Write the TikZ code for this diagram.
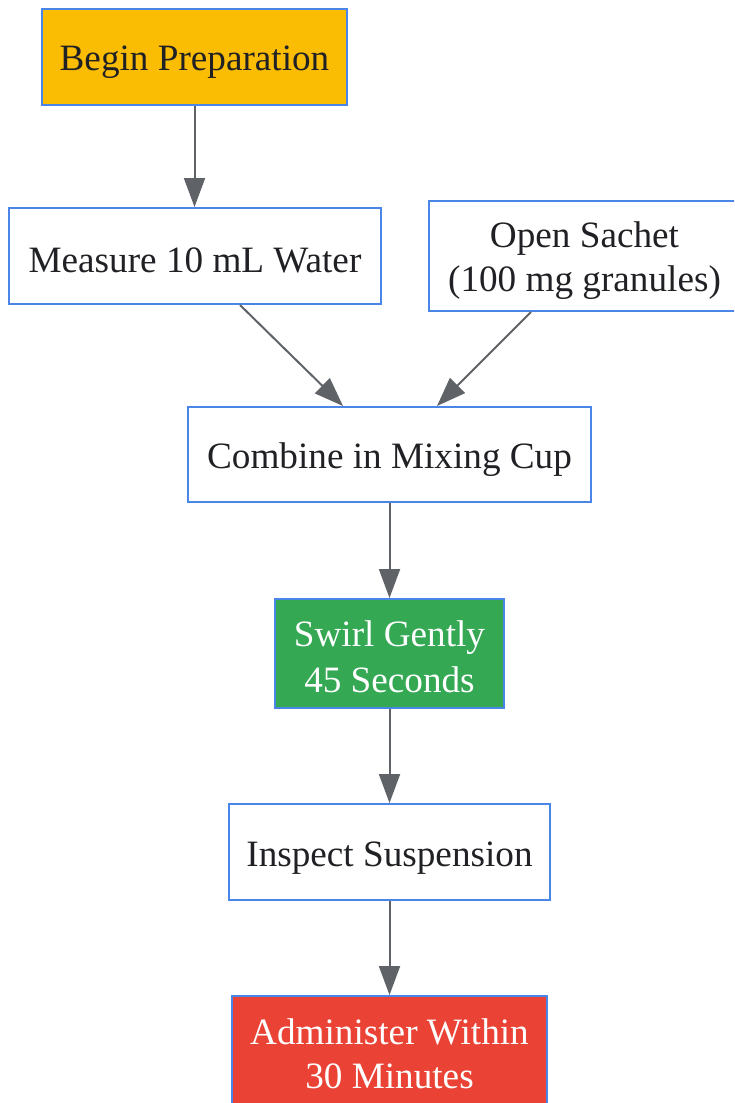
\documentclass[tikz,border=0pt]{standalone}
\usepackage{fontspec}
\setmainfont{Liberation Serif}
\usetikzlibrary{arrows.meta}
\definecolor{bordc}{HTML}{4A86E8}
\definecolor{arrc}{HTML}{5F6368}
\definecolor{txtc}{HTML}{202124}
\definecolor{yelc}{HTML}{FBBC04}
\definecolor{grnc}{HTML}{34A853}
\definecolor{redc}{HTML}{EA4335}
\newcommand\mystrut{\rule[-4pt]{0pt}{40pt}}
\tikzset{
  box/.style={draw=bordc, line width=2pt, fill=white, text=txtc, align=center,
    inner sep=0pt, font=\fontsize{37.2}{44}\selectfont,
    execute at begin node=\mystrut, execute at end node=\mystrut},
  flow/.style={draw=arrc, line width=2pt, -{Triangle[length=29pt,width=21pt]}}
}
\begin{document}
\begin{tikzpicture}[x=1pt,y=-1pt]
\useasboundingbox (0,0) rectangle (734,1103);
\clip (0,0) rectangle (734,1103);
\node[box, fill=yelc, minimum width=305pt, minimum height=96pt] (begin) at (194.5,57) {Begin Preparation};
\node[box, minimum width=372pt, minimum height=96pt] (measure) at (195,256) {Measure 10 mL Water};
\node[box, minimum width=311pt, minimum height=110pt] (sachet) at (584.5,256) {Open Sachet\mystrut\\(100 mg granules)\mystrut};
\node[box, minimum width=403pt, minimum height=95pt] (combine) at (389.5,454.5) {Combine in Mixing Cup};
\node[box, fill=grnc, text=white, minimum width=229pt, minimum height=109pt] (swirl) at (389.5,653.5) {Swirl Gently\mystrut\\45 Seconds\mystrut};
\node[box, minimum width=321pt, minimum height=96pt] (inspect) at (389.5,852) {Inspect Suspension};
\node[box, fill=redc, text=white, minimum width=315pt, minimum height=109pt] (admin) at (389.5,1050.5) {Administer Within\mystrut\\30 Minutes\mystrut};
\draw[flow] (begin.south) -- (begin.south |- measure.north);
\draw[flow] ([xshift=45pt]measure.south) -- ([xshift=-46.5pt]combine.north);
\draw[flow] ([xshift=-53.5pt]sachet.south) -- ([xshift=47.5pt]combine.north);
\draw[flow] (combine.south) -- (swirl.north);
\draw[flow] (swirl.south) -- (inspect.north);
\draw[flow] (inspect.south) -- (admin.north);
\end{tikzpicture}
\end{document}
